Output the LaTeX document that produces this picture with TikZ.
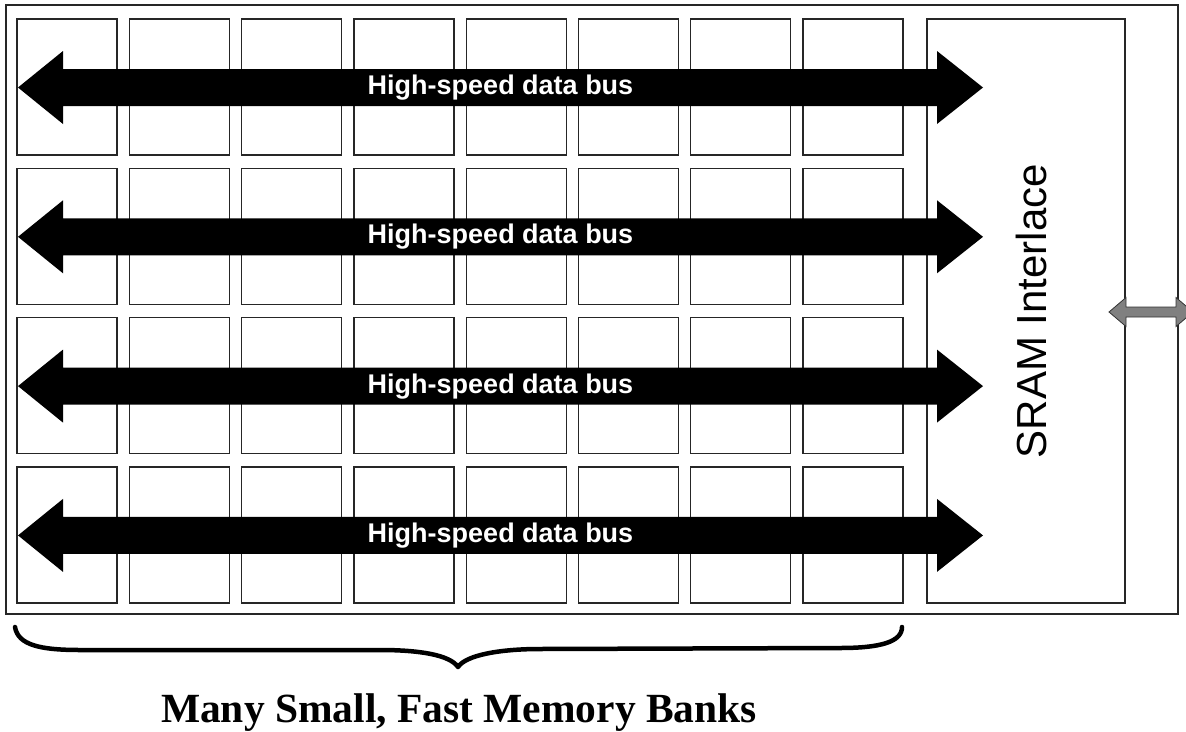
\documentclass[tikz,border=0pt]{standalone}
\usepackage{fontspec}
\setmainfont{Liberation Serif}
\newfontfamily\arialfont{Liberation Sans}
\begin{document}
\begin{tikzpicture}[x=1pt,y=-1pt,
  cellbox/.style={draw=black!85,line width=1.3pt},
  outerbox/.style={draw=black!85,line width=1.6pt},
  busarrow/.style={fill=black},
  buslabel/.style={text=white,font=\arialfont\bfseries\fontsize{27}{27}\selectfont,inner sep=0pt},
  ioarrow/.style={fill=black!50,draw=black!80,line width=0.8pt},
  bracestyle/.style={draw=black,line width=4.5pt,line cap=round,line join=round}]
\useasboundingbox (0,0) rectangle (1186,731);
% outer frame
\draw[outerbox] (6,5) rectangle (1178,614);
% memory bank cells
\foreach \i in {0,...,7}{
  \foreach \j in {0,...,3}{
    \draw[cellbox] ({17+\i*112.3},{19+\j*149.3}) rectangle ++(100,136);
  }
}
% SRAM interface box
\draw[cellbox] (927,19) rectangle (1125,603);
\node[rotate=90,font=\arialfont\fontsize{42}{42}\selectfont,inner sep=0pt] (sram) at (1031,311) {SRAM Interlace};
% high-speed data buses
\foreach \j in {0,...,3}{
  \pgfmathsetmacro{\yc}{87.5+\j*149.3}
  \fill[busarrow] (18,\yc) -- (63,\yc-36.5) -- (63,\yc-18.5) -- (937,\yc-18.5) -- (937,\yc-36.5)
     -- (983,\yc) -- (937,\yc+36.5) -- (937,\yc+18.5) -- (63,\yc+18.5) -- (63,\yc+36.5) -- cycle;
  \node[buslabel] (bus\j) at (500.5,\yc) {High-speed data bus};
}
% external I/O arrow
\draw[ioarrow] (1109,312) -- (1126,297.5) -- (1126,307) -- (1176,307) -- (1176,297.5) -- (1193,312)
   -- (1176,326.5) -- (1176,317) -- (1126,317) -- (1126,326.5) -- cycle;
% brace
\draw[bracestyle] (15,627) .. controls (18,645) and (40,650) .. (80,650) -- (380,650)
   .. controls (420,650) and (450,655) .. (458,667)
   .. controls (466,655) and (500,649) .. (540,649) -- (840,648)
   .. controls (880,648) and (902,642) .. (902,627);
\node[font=\bfseries\fontsize{41.5}{41.5}\selectfont,inner sep=0pt,anchor=base] (label) at (459,722) {Many Small, Fast Memory Banks};
\end{tikzpicture}
\end{document}
